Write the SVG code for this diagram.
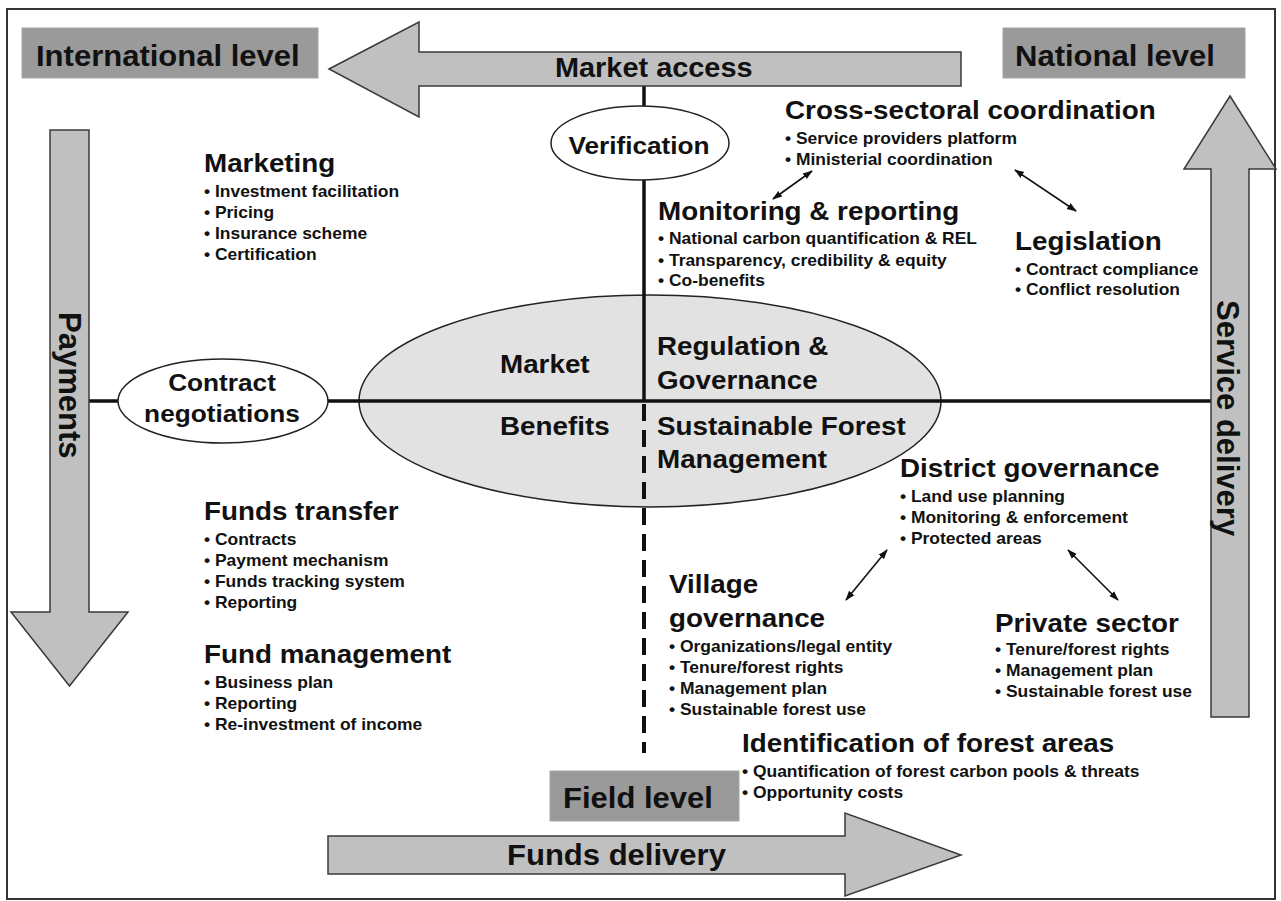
<svg xmlns="http://www.w3.org/2000/svg" width="1281" height="901" viewBox="0 0 1281 901">
<defs>
<style>
text{font-family:"Liberation Sans",Arial,sans-serif;font-weight:bold;fill:#111}
.lvl{font-size:29px}
.h{font-size:26px}
.b{font-size:16.3px}
.el{font-size:24.5px;text-anchor:middle}
.vt{font-size:31px}
.box{fill:#9a9a9a;stroke:#a6a6a6;stroke-width:1}
.arr{fill:#c0c0c0;stroke:#3a3a3a;stroke-width:1.5}
.oval{fill:#fff;stroke:#222;stroke-width:1.5}
.axis{stroke:#111;stroke-width:3.5;fill:none}
.dbl{stroke:#111;stroke-width:1.6;fill:none;marker-start:url(#ah);marker-end:url(#ah)}
</style>
<marker id="ah" viewBox="0 0 10 10" refX="9" refY="5" markerWidth="10" markerHeight="10" markerUnits="userSpaceOnUse" orient="auto-start-reverse">
<path d="M0,1.5 L10,5 L0,8.5 z" fill="#111"/>
</marker>
</defs>
<rect width="1281" height="901" fill="#fff"/>
<rect id="frame" x="7" y="9" width="1268" height="890" fill="none" stroke="#333" stroke-width="2"/>

<g id="core-ellipse">
<ellipse cx="650" cy="401" rx="291" ry="106" fill="#e2e2e2" stroke="#222" stroke-width="1.5"/>
</g>

<g id="connectors">
<path class="axis" d="M644,86 L644,401"/>
<path class="axis" d="M89,401 L1211,401"/>
<path d="M644,404 L644,753" stroke="#111" stroke-width="4" stroke-dasharray="17 9" fill="none"/>
<path class="dbl" d="M773,199 L812,171"/>
<path class="dbl" d="M1015,170 L1076,211"/>
<path class="dbl" d="M846,600 L887,550"/>
<path class="dbl" d="M1068,550 L1118,600"/>
</g>

<g id="market-access">
<path class="arr" d="M329,69 L419,22 L419,52 L961,52 L961,86 L419,86 L419,117 Z"/>
<g transform="translate(555 0) scale(1.07 1)"><text x="0" y="77" style="font-size:27px">Market access</text></g>
</g>

<g id="payments">
<path class="arr" d="M50,130 L89,130 L89,612 L128,612 L69.5,686 L11,612 L50,612 Z"/>
<text class="vt" transform="translate(59 312) rotate(90)">Payments</text>
</g>

<g id="service-delivery">
<path class="arr" d="M1230,96 L1276,169 L1249,169 L1249,717 L1211,717 L1211,169 L1184,169 Z"/>
<text class="vt" transform="translate(1217 300) rotate(90)">Service delivery</text>
</g>

<g id="funds-delivery">
<path class="arr" d="M328,836 L845,836 L845,813 L961,855 L845,896 L845,874 L328,874 Z"/>
<g transform="translate(507 0) scale(1.07 1)"><text class="lvl" x="0" y="865">Funds delivery</text></g>
</g>

<g id="international-level">
<rect class="box" x="22" y="28" width="296" height="50"/>
<g transform="translate(36 0) scale(1.07 1)"><text class="lvl" x="0" y="66">International level</text></g>
</g>

<g id="national-level">
<rect class="box" x="1003" y="28" width="242" height="50"/>
<g transform="translate(1015 0) scale(1.07 1)"><text class="lvl" x="0" y="66">National level</text></g>
</g>

<g id="field-level">
<rect class="box" x="550" y="771" width="189" height="50"/>
<g transform="translate(563 0) scale(1.07 1)"><text class="lvl" x="0" y="808">Field level</text></g>
</g>

<g id="verification">
<ellipse class="oval" cx="640" cy="143" rx="89" ry="37"/>
<g transform="translate(639 0) scale(1.07 1)"><text class="el" x="0" y="154">Verification</text></g>
</g>

<g id="contract-negotiations">
<ellipse class="oval" cx="223" cy="401" rx="105" ry="42"/>
<g transform="translate(222 0) scale(1.07 1)"><text class="el" x="0" y="391">Contract</text><text class="el" x="0" y="422">negotiations</text></g>
</g>

<g id="market-benefits">
<g transform="translate(500 0) scale(1.07 1)"><text class="h" x="0" y="373">Market</text><text class="h" x="0" y="435">Benefits</text></g>
</g>

<g id="regulation-sfm">
<g transform="translate(657 0) scale(1.07 1)">
<text class="h" x="0" y="355">Regulation &amp;</text>
<text class="h" x="0" y="389">Governance</text>
<text class="h" x="0" y="435">Sustainable Forest</text>
<text class="h" x="0" y="468">Management</text>
</g>
</g>

<g id="marketing">
<g transform="translate(204 0) scale(1.07 1)">
<text class="h" x="0" y="172">Marketing</text>
<text class="b" x="0" y="197">• Investment facilitation</text>
<text class="b" x="0" y="218">• Pricing</text>
<text class="b" x="0" y="239">• Insurance scheme</text>
<text class="b" x="0" y="260">• Certification</text>
</g>
</g>

<g id="cross-sectoral">
<g transform="translate(785 0) scale(1.07 1)">
<text class="h" x="0" y="119">Cross-sectoral coordination</text>
<text class="b" x="0" y="144">• Service providers platform</text>
<text class="b" x="0" y="165">• Ministerial coordination</text>
</g>
</g>

<g id="monitoring">
<g transform="translate(658 0) scale(1.07 1)">
<text class="h" x="0" y="220">Monitoring &amp; reporting</text>
<text class="b" x="0" y="244">• National carbon quantification &amp; REL</text>
<text class="b" x="0" y="266">• Transparency, credibility &amp; equity</text>
<text class="b" x="0" y="286">• Co-benefits</text>
</g>
</g>

<g id="legislation">
<g transform="translate(1015 0) scale(1.07 1)">
<text class="h" x="0" y="250">Legislation</text>
<text class="b" x="0" y="275">• Contract compliance</text>
<text class="b" x="0" y="295">• Conflict resolution</text>
</g>
</g>

<g id="funds-transfer">
<g transform="translate(204 0) scale(1.07 1)">
<text class="h" x="0" y="520">Funds transfer</text>
<text class="b" x="0" y="545">• Contracts</text>
<text class="b" x="0" y="566">• Payment mechanism</text>
<text class="b" x="0" y="587">• Funds tracking system</text>
<text class="b" x="0" y="608">• Reporting</text>
</g>
</g>

<g id="fund-management">
<g transform="translate(204 0) scale(1.07 1)">
<text class="h" x="0" y="663">Fund management</text>
<text class="b" x="0" y="688">• Business plan</text>
<text class="b" x="0" y="709">• Reporting</text>
<text class="b" x="0" y="730">• Re-investment of income</text>
</g>
</g>

<g id="district-governance">
<g transform="translate(900 0) scale(1.07 1)">
<text class="h" x="0" y="477">District governance</text>
<text class="b" x="0" y="502">• Land use planning</text>
<text class="b" x="0" y="523">• Monitoring &amp; enforcement</text>
<text class="b" x="0" y="544">• Protected areas</text>
</g>
</g>

<g id="village-governance">
<g transform="translate(669 0) scale(1.07 1)">
<text class="h" x="0" y="593">Village</text>
<text class="h" x="0" y="627">governance</text>
<text class="b" x="0" y="652">• Organizations/legal entity</text>
<text class="b" x="0" y="673">• Tenure/forest rights</text>
<text class="b" x="0" y="694">• Management plan</text>
<text class="b" x="0" y="715">• Sustainable forest use</text>
</g>
</g>

<g id="private-sector">
<g transform="translate(995 0) scale(1.07 1)">
<text class="h" x="0" y="632">Private sector</text>
<text class="b" x="0" y="655">• Tenure/forest rights</text>
<text class="b" x="0" y="676">• Management plan</text>
<text class="b" x="0" y="697">• Sustainable forest use</text>
</g>
</g>

<g id="identification">
<g transform="translate(742 0) scale(1.07 1)">
<text class="h" x="0" y="752">Identification of forest areas</text>
<text class="b" x="0" y="777">• Quantification of forest carbon pools &amp; threats</text>
<text class="b" x="0" y="798">• Opportunity costs</text>
</g>
</g>
</svg>
